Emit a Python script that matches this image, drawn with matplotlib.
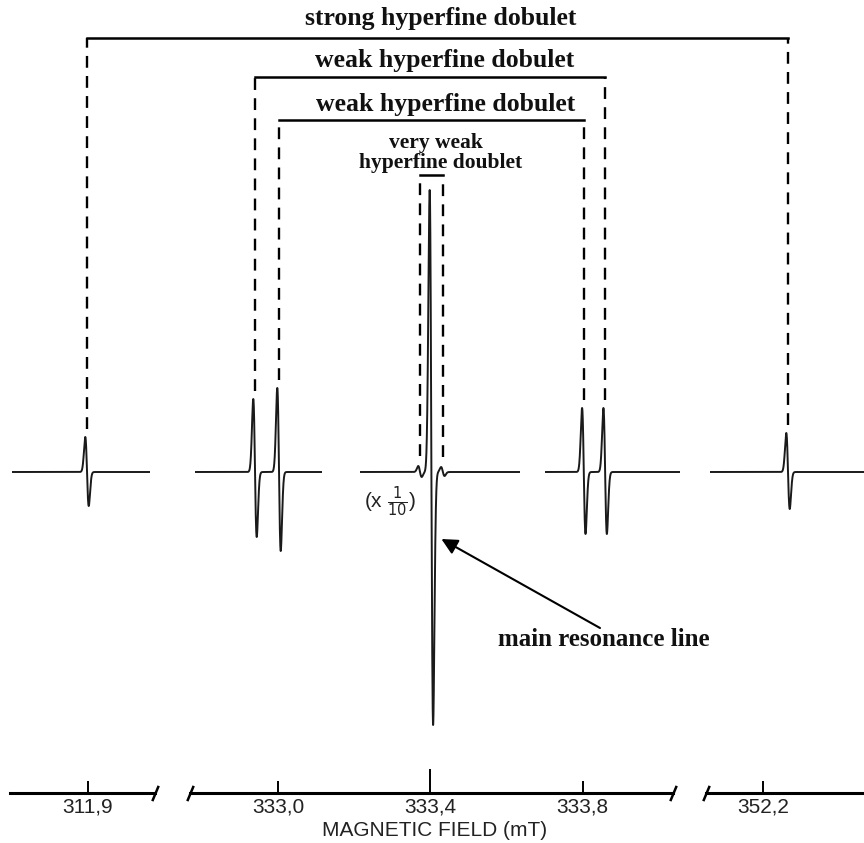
import numpy as np
import matplotlib.pyplot as plt
from matplotlib.lines import Line2D

# EPR spectrum: main line with hyperfine doublets (broken field axis)
W, H = 864, 843
SCALE = 381.0  # px per mT

# line positions (mT) and derivative lobe heights (arb. units)
strong_pos = [311.90, 352.20]
strong_up = [35, 39]
strong_down = [34, 37]

weak_outer_pos = [332.937, 333.856]
weak_outer_up = [73, 64]
weak_outer_down = [65, 62]

weak_inner_pos = [333.00, 333.80]
weak_inner_up = [84, 64]
weak_inner_down = [79, 62]

vweak_pos = [333.37, 333.43]
vweak_up = [6, 5]
vweak_down = [5, 4]

main_pos = [333.40]
main_up = [282]
main_down = [253]

tick_vals = [311.9, 333.0, 333.4, 333.8, 352.2]
tick_labels = ['311,9', '333,0', '333,4', '333,8', '352,2']
axis_title = 'MAGNETIC FIELD (mT)'

all_pos = strong_pos + weak_outer_pos + weak_inner_pos + vweak_pos + main_pos
all_up = strong_up + weak_outer_up + weak_inner_up + vweak_up + main_up
all_down = strong_down + weak_outer_down + weak_inner_down + vweak_down + main_down


def dgauss(x, x0, up, down, s=0.0045):
    u = (x - x0) / s
    f = -u * np.exp(-u ** 2 / 2) * np.sqrt(np.e)
    return np.where(u < 0, up * f, down * f)


fig = plt.figure(figsize=(W / 100, H / 100), dpi=100)
fig.patch.set_facecolor('white')

# spectrum segments: (left px, right px, ref px, ref field)
spec_segments = [(12, 150, 87, 311.9), (195, 322, 279, 333.0), (360, 520, 279, 333.0),
                 (545, 680, 279, 333.0), (710, 864, 788, 352.2)]
spec_top, spec_bot, base_px = 150, 760, 472

spec_axes = []
for left, right, ref, fref in spec_segments:
    ax = fig.add_axes([left / W, 1 - spec_bot / H, (right - left) / W, (spec_bot - spec_top) / H])
    ax.set_xlim(fref + (left - ref) / SCALE, fref + (right - ref) / SCALE)
    ax.set_ylim(-(spec_bot - base_px), base_px - spec_top)
    ax.axis('off')
    x = np.linspace(*ax.get_xlim(), 4000)
    y = np.zeros_like(x)
    for p, u, d in zip(all_pos, all_up, all_down):
        y += dgauss(x, p, u, d)
    ax.plot(x, y, color='#1a1a1a', lw=1.4)
    spec_axes.append(ax)


def find_ax(field):
    for ax in spec_axes:
        lo, hi = ax.get_xlim()
        if lo <= field <= hi:
            return ax
    return spec_axes[0]


def to_fig(field, amp):
    ax = find_ax(field)
    return fig.transFigure.inverted().transform(ax.transData.transform((field, amp)))


def bracket(positions, ups, level_px, gap=8):
    yl = 1 - level_px / H
    xs = []
    for p, u in zip(positions, ups):
        xf, yf = to_fig(p, u + gap)
        xs.append(xf)
        fig.add_artist(Line2D([xf, xf], [yf, yl], color='black', lw=1.7,
                              dashes=(5, 3.5), transform=fig.transFigure))
    fig.add_artist(Line2D([xs[0], xs[1]], [yl, yl], color='black', lw=1.8,
                          transform=fig.transFigure, solid_capstyle='projecting'))
    return xs


serif = dict(family='Liberation Serif', weight='bold', color='#111111')
bracket(strong_pos, strong_up, 38)
bracket(weak_outer_pos, weak_outer_up, 77)
bracket(weak_inner_pos, weak_inner_up, 120)
bracket(vweak_pos, vweak_up, 175, gap=10)

fig.text(441 / W, 1 - 18 / H, 'strong hyperfine dobulet', ha='center', va='center', fontsize=18.5, **serif)
fig.text(445 / W, 1 - 60 / H, 'weak hyperfine dobulet', ha='center', va='center', fontsize=18.5, **serif)
fig.text(446 / W, 1 - 104 / H, 'weak hyperfine dobulet', ha='center', va='center', fontsize=18.5, **serif)
fig.text(436 / W, 1 - 143 / H, 'very weak', ha='center', va='center', fontsize=15.5, **serif)
fig.text(441 / W, 1 - 163 / H, 'hyperfine doublet', ha='center', va='center', fontsize=15.5, **serif)

fig.text(390 / W, 1 - 502 / H, r'(x $\frac{1}{10}$)', ha='center', va='center',
         fontsize=15, family='Liberation Sans', color='#222222')

# arrow to main line
ax_main = find_ax(main_pos[0])
ax_main.annotate('', xy=(main_pos[0] + 10 / SCALE, -67), xycoords='data',
                 xytext=(600 / W, 1 - 628 / H), textcoords='figure fraction',
                 arrowprops=dict(arrowstyle='-|>', color='black', lw=1.5,
                                 mutation_scale=24, shrinkA=0, shrinkB=0))
fig.text(604 / W, 1 - 640 / H, 'main resonance line', ha='center', va='center',
         fontsize=18, **serif)

# broken field axis: (left px, right px, ref px, ref field, slash left, slash right)
axis_segments = [(10, 155, 88, 311.9, False, True), (190, 673, 278, 333.0, True, True),
                 (706, 864, 763, 352.2, True, False)]
axis_px = 793
slash = [(-1, -2.4), (1, 2.4)]
for left, right, ref, fref, sl, sr in axis_segments:
    ax = fig.add_axes([left / W, 1 - axis_px / H, (right - left) / W, 40 / H])
    ax.set_xlim(fref + (left - ref) / SCALE, fref + (right - ref) / SCALE)
    ax.set_ylim(0, 1)
    ax.patch.set_alpha(0)
    for s in ['top', 'left', 'right']:
        ax.spines[s].set_visible(False)
    ax.spines['bottom'].set_linewidth(2.2)
    ax.set_yticks([])
    lo, hi = ax.get_xlim()
    vals = [v for v in tick_vals if lo <= v <= hi]
    labs = [l for v, l in zip(tick_vals, tick_labels) if lo <= v <= hi]
    ax.set_xticks(vals)
    ax.set_xticklabels(labs, family='Liberation Sans', fontsize=15, color='#222222')
    ax.tick_params(axis='x', direction='in', length=9, width=1.4, pad=3)
    for v, t in zip(vals, ax.xaxis.get_major_ticks()):
        if v == 333.4:
            t.tick1line.set_markersize(17)
    if sl:
        ax.plot([0], [0], transform=ax.transAxes, marker=slash, markersize=11,
                mew=1.8, color='black', clip_on=False, linestyle='none')
    if sr:
        ax.plot([1], [0], transform=ax.transAxes, marker=slash, markersize=11,
                mew=1.8, color='black', clip_on=False, linestyle='none')

fig.text(435 / W, 1 - 830 / H, axis_title, ha='center', va='center',
         fontsize=15, family='Liberation Sans', color='#222222')

fig.savefig('out.png', dpi=100, facecolor='white')
